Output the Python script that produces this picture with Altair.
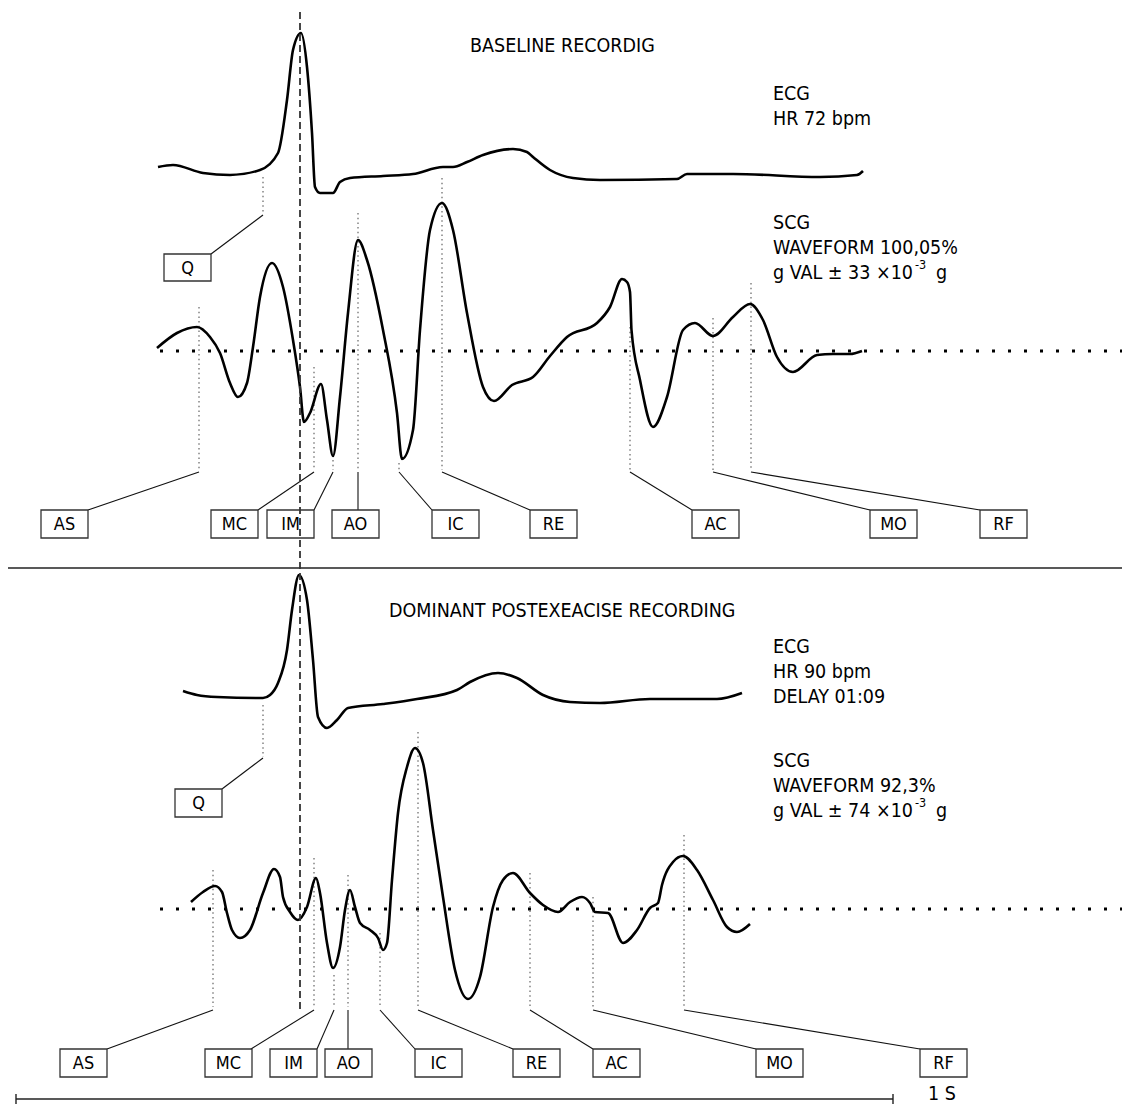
import altair as alt
import pandas as pd

# ---------------- data (image pixel coordinates) ----------------
ECG1_X = [158, 173, 203, 230, 260, 278, 287, 293, 301, 307, 312, 315, 320, 333, 340, 350, 383, 413, 443, 453, 467, 483, 513, 527, 533, 550, 573, 600, 677, 687, 733, 820, 857, 863]
ECG1_Y = [167, 165, 173, 175, 170, 153, 100, 50, 33, 67, 133, 187, 193, 193, 182, 178, 176, 174, 167, 167, 162, 155, 149, 152, 157, 170, 178, 180, 179, 174, 174, 177, 175, 171]

SCG1_X = [157, 177, 197, 210, 220, 230, 238, 247, 253, 260, 272, 283, 293, 300, 304, 310, 321, 327, 333, 340, 348, 358, 367, 383, 397, 402, 413, 420, 430, 442, 453, 467, 483, 494, 512, 533, 550, 567, 597, 610, 622, 627, 630, 631.5, 640, 653, 667, 683, 695, 713, 733, 750, 763, 777, 793, 817, 833, 850, 862]
SCG1_Y = [348, 333, 327, 337, 353, 383, 397, 383, 347, 297, 263, 287, 340, 387, 422, 413, 384, 420, 456, 397, 313, 240, 260, 330, 413, 459, 430, 330, 230, 203, 230, 313, 387, 401, 385, 377, 356, 337, 323, 307, 279, 282, 292, 330, 380, 427, 397, 330, 323, 336, 317, 304, 320, 357, 372, 355, 354, 354, 351]

ECG2_X = [183, 197, 217, 263, 270, 278, 287, 292, 299, 307, 313, 318, 327, 337, 348, 383, 417, 457, 470, 498, 517, 543, 570, 600, 650, 717, 742]
ECG2_Y = [691, 695, 697, 698, 695, 683, 650, 610, 575, 600, 660, 717, 728, 720, 708, 704, 699, 690, 682, 673, 678, 695, 702, 703, 699, 699, 693]

SCG2_X = [191, 203, 215, 222, 227, 232, 240, 250, 263, 274, 280, 283, 290, 298, 307, 316, 320, 327, 333, 340, 345, 350, 355, 360, 370, 378, 383, 387, 392, 398, 407, 415, 423, 433, 443, 455, 468, 480, 493, 503, 513, 530, 543, 558, 570, 582, 590, 595, 608, 623, 637, 650, 658, 662, 673, 683, 697, 713, 727, 737, 750]
SCG2_Y = [902, 892, 886, 892, 913, 930, 938, 930, 893, 869, 877, 897, 912, 920, 907, 878, 893, 943, 968, 947, 910, 890, 907, 923, 930, 938, 950, 943, 880, 813, 767, 748, 763, 830, 897, 970, 999, 977, 907, 880, 873, 893, 905, 912, 902, 897, 903, 912, 913, 943, 930, 908, 903, 885, 862, 856, 870, 900, 927, 932, 924]

LABELS = ["AS", "MC", "IM", "AO", "IC", "RE", "AC", "MO", "RF"]

# upper recording markers
TOP_MARK_X = [199, 314, 333, 358, 399, 442, 630, 713, 751]
TOP_DOT_TOP = [307, 367, 460, 213, 463, 178, 327, 318, 283]
TOP_BOX_LEFT = [41, 211, 267, 332, 432, 530, 692, 870, 980]
TOP_LEAD_END = [88, 258, 314, 358, 432, 530, 692, 870, 980]

# lower recording markers
BOT_MARK_X = [213, 314, 334, 348, 380, 418, 530, 593, 684]
BOT_DOT_TOP = [870, 858, 975, 875, 933, 732, 873, 897, 835]
BOT_BOX_LEFT = [60, 205, 270, 325, 415, 513, 593, 756, 920]
BOT_LEAD_END = [107, 251, 317, 348, 415, 513, 593, 756, 920]

FONT = "DejaVu Sans Condensed, Liberation Sans Narrow, sans-serif"

# ---------------- helpers ----------------
XS = alt.Scale(domain=[8, 1122], nice=False, zero=False)
YS = alt.Scale(domain=[8, 1123], nice=False, zero=False, reverse=True)


def X(f):
    return alt.X(f, type="quantitative", scale=XS, axis=None)


def Y(f):
    return alt.Y(f, type="quantitative", scale=YS, axis=None)


# waveforms
rows = []
for name, xs, ys in [("ecg1", ECG1_X, ECG1_Y), ("scg1", SCG1_X, SCG1_Y),
                     ("ecg2", ECG2_X, ECG2_Y), ("scg2", SCG2_X, SCG2_Y)]:
    for i, (a, b) in enumerate(zip(xs, ys)):
        rows.append({"id": name, "ord": i, "x": a, "y": b})
wave_df = pd.DataFrame(rows)

# dotted vertical markers
dots = []
for mx, top in zip(TOP_MARK_X, TOP_DOT_TOP):
    dots.append({"x": mx, "y": top, "y2": 470})
for mx, top in zip(BOT_MARK_X, BOT_DOT_TOP):
    dots.append({"x": mx, "y": top, "y2": 1007})
dots.append({"x": 263, "y": 177, "y2": 213})
dots.append({"x": 263, "y": 705, "y2": 757})
dots_df = pd.DataFrame(dots)

# leader lines
leads = []
for mx, ex in zip(TOP_MARK_X, TOP_LEAD_END):
    leads.append({"x": mx, "y": 472, "x2": ex, "y2": 510})
for mx, ex in zip(BOT_MARK_X, BOT_LEAD_END):
    leads.append({"x": mx, "y": 1010, "x2": ex, "y2": 1049})
leads.append({"x": 263, "y": 215, "x2": 211, "y2": 254})
leads.append({"x": 263, "y": 758, "x2": 222, "y2": 789})
lead_df = pd.DataFrame(leads)

# boxes
boxes = []
for lab, bl in zip(LABELS, TOP_BOX_LEFT):
    boxes.append({"label": lab, "x": bl, "x2": bl + 47, "y": 510, "y2": 538})
for lab, bl in zip(LABELS, BOT_BOX_LEFT):
    boxes.append({"label": lab, "x": bl, "x2": bl + 47, "y": 1049, "y2": 1077})
boxes.append({"label": "Q", "x": 164, "x2": 211, "y": 254, "y2": 281})
boxes.append({"label": "Q", "x": 175, "x2": 222, "y": 789, "y2": 817})
box_df = pd.DataFrame(boxes)
box_df["cx"] = (box_df["x"] + box_df["x2"]) / 2
box_df["cy"] = (box_df["y"] + box_df["y2"]) / 2 + 1

# free texts
TEXTS = ["BASELINE RECORDIG", "ECG", "HR 72 bpm", "SCG", "WAVEFORM 100,05%", "g VAL ± 33 ×10", "g",
         "DOMINANT POSTEXEACISE RECORDING", "ECG", "HR 90 bpm", "DELAY 01:09", "SCG", "WAVEFORM 92,3%",
         "g VAL ± 74 ×10", "g", "1 S"]
TEXT_X = [470, 773, 773, 773, 773, 773, 936, 389, 773, 773, 773, 773, 773, 773, 936, 928]
TEXT_Y = [52, 100, 125, 229, 254, 279, 279, 617, 653, 678, 703, 767, 792, 817, 817, 1100]
text_df = pd.DataFrame({"t": TEXTS, "x": TEXT_X, "y": TEXT_Y})

SUP = ["-3", "-3"]
SUP_X = [915, 915]
SUP_Y = [269, 807]
sup_df = pd.DataFrame({"t": SUP, "x": SUP_X, "y": SUP_Y})

# dotted zero lines
zero_df = pd.DataFrame({"x": [160, 160], "x2": [1130, 1130], "y": [351, 909]})

# other straight lines: separator, scale bar and its end ticks
LINE_X = [8, 16, 16, 893]
LINE_X2 = [1130, 893, 16, 893]
LINE_Y = [568, 1099, 1094, 1094]
LINE_Y2 = [568, 1099, 1104, 1104]
line_df = pd.DataFrame({"x": LINE_X, "x2": LINE_X2, "y": LINE_Y, "y2": LINE_Y2})

# dashed QRS reference line
dash_df = pd.DataFrame({"x": [300], "y": [12], "y2": [1012]})

# ---------------- layers ----------------
waves = alt.Chart(wave_df).mark_line(interpolate="monotone", color="black", strokeWidth=2.6).encode(
    x=X("x"), y=Y("y"), detail="id:N", order="ord:Q")

dotted = alt.Chart(dots_df).mark_rule(color="#555", strokeWidth=1.1, strokeDash=[1.5, 3.2]).encode(
    x=X("x"), y=Y("y"), y2="y2")

leaders = alt.Chart(lead_df).mark_rule(color="#111", strokeWidth=1.1).encode(
    x=X("x"), y=Y("y"), x2="x2", y2="y2")

rects = alt.Chart(box_df).mark_rect(fillOpacity=0, stroke="#333", strokeWidth=1.3).encode(
    x=X("x"), x2="x2", y=Y("y"), y2="y2")

box_text = alt.Chart(box_df).mark_text(font=FONT, fontSize=18, align="center", baseline="middle", color="black").encode(
    x=X("cx"), y=Y("cy"), text="label:N")

texts = alt.Chart(text_df).mark_text(font=FONT, fontSize=19.5, align="left", baseline="alphabetic", color="black").encode(
    x=X("x"), y=Y("y"), text="t:N")

sups = alt.Chart(sup_df).mark_text(font=FONT, fontSize=12.5, align="left", baseline="alphabetic", color="black").encode(
    x=X("x"), y=Y("y"), text="t:N")

zeros = alt.Chart(zero_df).mark_rule(color="black", strokeWidth=3, strokeDash=[3, 13]).encode(
    x=X("x"), x2="x2", y=Y("y"))

lines = alt.Chart(line_df).mark_rule(color="#222", strokeWidth=1.4).encode(
    x=X("x"), x2="x2", y=Y("y"), y2="y2")

dashed = alt.Chart(dash_df).mark_rule(color="#333", strokeWidth=1.8, strokeDash=[7, 4]).encode(
    x=X("x"), y=Y("y"), y2="y2")

chart = alt.layer(zeros, dotted, leaders, rects, box_text, texts, sups, lines, waves, dashed).properties(
    width=1114, height=1115, padding=0, autosize="none"
).configure_view(stroke=None)

chart.save("out.html", embed_options={"renderer": "svg", "actions": False})
